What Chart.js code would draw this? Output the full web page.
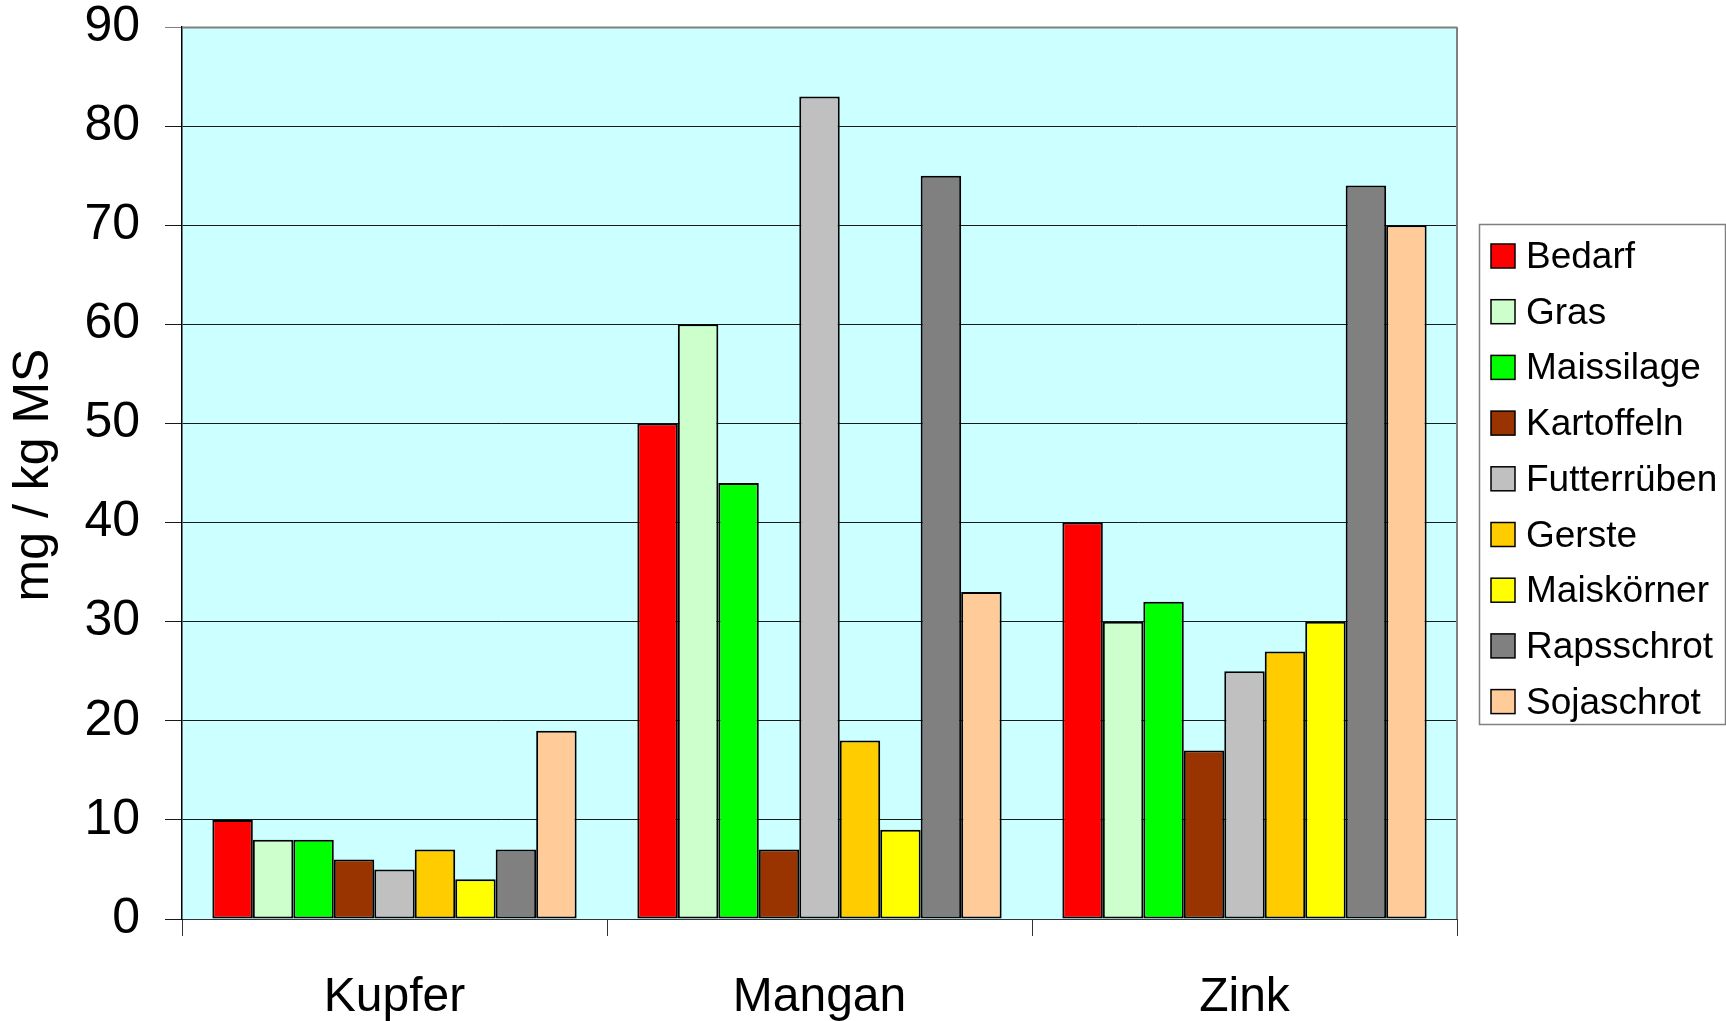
<!DOCTYPE html>
<html>
<head>
<meta charset="utf-8">
<script src="https://cdn.jsdelivr.net/npm/chart.js@4/dist/chart.umd.min.js"></script>
<style>
  html, body { margin: 0; padding: 0; background: #ffffff; }
  #wrap { width: 1726px; height: 1021px; }
</style>
</head>
<body>
<div id="wrap"><canvas id="c" width="1726" height="1021"></canvas></div>
<script>
// Spurenelemente in Futtermitteln (mg / kg MS)
const categories = ['Kupfer', 'Mangan', 'Zink'];
const seriesNames = ['Bedarf', 'Gras', 'Maissilage', 'Kartoffeln', 'Futterrüben', 'Gerste', 'Maiskörner', 'Rapsschrot', 'Sojaschrot'];
const bedarf      = [10, 50, 40];
const gras        = [8, 60, 30];
const maissilage  = [8, 44, 32];
const kartoffeln  = [6, 7, 17];
const futterrueben = [5, 83, 25];
const gerste      = [7, 18, 27];
const maiskoerner = [4, 9, 30];
const rapsschrot  = [7, 75, 74];
const sojaschrot  = [19, 33, 70];
const yTicks = [0, 10, 20, 30, 40, 50, 60, 70, 80, 90];
const axisTitle = 'mg / kg MS';

const seriesValues = [bedarf, gras, maissilage, kartoffeln, futterrueben, gerste, maiskoerner, rapsschrot, sojaschrot];
const seriesColors = ['#FF0000', '#CCFFCC', '#00FF00', '#993300', '#C0C0C0', '#FFCC00', '#FFFF00', '#808080', '#FFCC99'];

const FONT = "'Liberation Sans', Arial, Helvetica, sans-serif";

// plot area background and frame
const plotFrame = {
  id: 'plotFrame',
  beforeDraw(chart) {
    const {ctx, chartArea: a} = chart;
    ctx.save();
    ctx.fillStyle = '#CCFFFF';
    ctx.fillRect(a.left, a.top, a.right - a.left, a.bottom - a.top);
    ctx.restore();
  },
  afterDatasetsDraw(chart) {
    const {ctx, chartArea: a} = chart;
    ctx.save();
    ctx.strokeStyle = '#808080';
    ctx.lineWidth = 2;
    ctx.beginPath();
    ctx.moveTo(a.left, a.top + 0.5);
    ctx.lineTo(a.right, a.top + 0.5);
    ctx.moveTo(a.right, a.top);
    ctx.lineTo(a.right, a.bottom);
    ctx.stroke();
    ctx.restore();
  }
};

// vertical axis title, centred on the plot area
const yTitle = {
  id: 'yTitle',
  afterDraw(chart) {
    const {ctx, chartArea: a} = chart;
    ctx.save();
    ctx.translate(34, (a.top + a.bottom) / 2 + 2);
    ctx.rotate(-Math.PI / 2);
    ctx.font = '50px ' + FONT;
    ctx.fillStyle = '#000';
    ctx.textAlign = 'center';
    ctx.textBaseline = 'middle';
    ctx.fillText(axisTitle, 0, 0);
    ctx.restore();
  }
};

// boxed legend on the right
const boxLegend = {
  id: 'boxLegend',
  afterDraw(chart) {
    const {ctx} = chart;
    const x = 1479.5, y = 224.5, w = 246, h = 500;
    ctx.save();
    ctx.fillStyle = '#ffffff';
    ctx.fillRect(x, y, w, h);
    ctx.strokeStyle = '#808080';
    ctx.lineWidth = 1.5;
    ctx.strokeRect(x, y, w, h);
    ctx.font = '37px ' + FONT;
    ctx.textBaseline = 'alphabetic';
    ctx.textAlign = 'left';
    chart.data.datasets.forEach((ds, i) => {
      const cy = 256 + i * 55.7;
      ctx.fillStyle = ds.backgroundColor;
      ctx.fillRect(1491, cy - 12, 24, 24);
      ctx.strokeStyle = '#000';
      ctx.lineWidth = 1.5;
      ctx.strokeRect(1491, cy - 12, 24, 24);
      ctx.fillStyle = '#000';
      ctx.fillText(ds.label, 1526, cy + 12);
    });
    ctx.restore();
  }
};

const datasets = seriesNames.map((name, i) => ({
  label: name,
  data: seriesValues[i],
  backgroundColor: seriesColors[i],
  borderColor: '#000000',
  borderWidth: 2,
  borderSkipped: false,
  categoryPercentage: 9 / 10.5,
  barPercentage: 1.0
}));

new Chart(document.getElementById('c'), {
  type: 'bar',
  data: { labels: categories, datasets },
  plugins: [plotFrame, yTitle, boxLegend],
  options: {
    responsive: false,
    animation: false,
    devicePixelRatio: 1,
    layout: { padding: { left: 0, top: 27, right: 269, bottom: 0 } },
    plugins: {
      legend: { display: false },
      tooltip: { enabled: false },
      title: { display: false }
    },
    scales: {
      x: {
        offset: true,
        grid: {
          offset: true,
          drawOnChartArea: false,
          drawTicks: true,
          tickLength: 17,
          color: '#333333',
          lineWidth: 1
        },
        border: { display: true, color: '#333333', width: 1 },
        ticks: {
          color: '#000',
          font: { family: FONT, size: 48, lineHeight: 1.2 },
          padding: 33,
          maxRotation: 0
        },
        afterFit(scale) {
          scale.height = 102;
          scale.paddingLeft = 0;
          scale.paddingRight = 0;
        }
      },
      y: {
        min: 0,
        max: 90,
        afterBuildTicks(scale) {
          scale.ticks = yTicks.map(v => ({ value: v }));
        },
        grid: {
          color: (c) => (c.tick && c.tick.value === 90 ? '#808080' : '#1a1a1a'),
          lineWidth: 1,
          tickLength: 17,
          drawTicks: true
        },
        border: { display: true, color: '#000', width: 1.5 },
        ticks: {
          color: '#000',
          font: { family: FONT, size: 50, lineHeight: 1.2 },
          padding: 25
        },
        afterFit(scale) {
          scale.width = 182;
          scale.paddingTop = 0;
          scale.paddingBottom = 0;
        }
      }
    }
  }
});
</script>
</body>
</html>
